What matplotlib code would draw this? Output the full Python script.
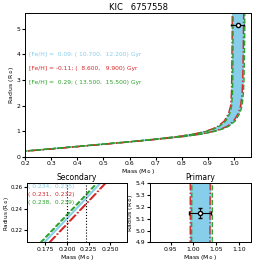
import numpy as np
import matplotlib
matplotlib.use('Agg')
import matplotlib.pyplot as plt

# isochrone radius grid (R_sun) and masses (M_sun) for each age
radius = [0.15, 0.20, 0.25, 0.30, 0.40, 0.50, 0.60, 0.70, 0.80, 0.90, 1.00,
          1.10, 1.20, 1.40, 1.70, 2.00, 2.50, 3.00, 4.00, 5.00, 5.80]

# [Fe/H] = 0.09 ; 10.7 / 12.2 Gyr
blue_young = [0.107, 0.165, 0.223, 0.280, 0.390, 0.500, 0.610, 0.712, 0.805, 0.875, 0.920,
              0.952, 0.975, 1.000, 1.018, 1.027, 1.032, 1.034, 1.036, 1.037, 1.038]
blue_old = [0.106, 0.164, 0.222, 0.279, 0.388, 0.496, 0.603, 0.700, 0.785, 0.850, 0.893,
            0.922, 0.942, 0.966, 0.982, 0.989, 0.992, 0.993, 0.994, 0.994, 0.995]
# [Fe/H] = -0.11 ; 8.6 / 9.9 Gyr
red_young = [0.113, 0.171, 0.229, 0.286, 0.396, 0.506, 0.616, 0.717, 0.808, 0.877, 0.921,
             0.952, 0.974, 0.998, 1.016, 1.025, 1.031, 1.033, 1.035, 1.036, 1.037]
red_old = [0.112, 0.170, 0.228, 0.285, 0.394, 0.502, 0.608, 0.703, 0.786, 0.848, 0.890,
           0.918, 0.938, 0.962, 0.979, 0.987, 0.990, 0.991, 0.992, 0.993, 0.993]
# [Fe/H] = 0.29 ; 13.5 / 15.5 Gyr
green_young = [0.103, 0.161, 0.219, 0.276, 0.386, 0.497, 0.608, 0.712, 0.808, 0.880, 0.926,
               0.958, 0.980, 1.004, 1.022, 1.031, 1.036, 1.038, 1.040, 1.041, 1.041]
green_old = [0.102, 0.160, 0.218, 0.275, 0.384, 0.493, 0.601, 0.700, 0.787, 0.852, 0.895,
             0.924, 0.944, 0.968, 0.984, 0.991, 0.994, 0.995, 0.996, 0.996, 0.997]

labels_main = ['[Fe/H] =  0.09; ( 10.700,  12.200) Gyr',
               '[Fe/H] = -0.11; (  8.600,   9.900) Gyr',
               '[Fe/H] =  0.29; ( 13.500,  15.500) Gyr']
labels_sec = ['( 0.234,  0.235)', '( 0.231,  0.232)', '( 0.238,  0.239)']

prim_mass, prim_mass_err = 1.014, 0.024
prim_rad, prim_rad_err = 5.15, 0.04
sec_mass_range = [0.200, 0.222]

c_blue = 'skyblue'
c_red = 'tab:red'
c_green = 'tab:green'

plt.rcParams['font.size'] = 4.4
plt.rcParams['xtick.labelsize'] = 4.4
plt.rcParams['ytick.labelsize'] = 4.4
plt.rcParams['xtick.major.size'] = 2
plt.rcParams['ytick.major.size'] = 2
plt.rcParams['xtick.major.pad'] = 1.2
plt.rcParams['ytick.major.pad'] = 1.2
plt.rcParams['axes.linewidth'] = 0.7

fig = plt.figure(figsize=(2.58, 2.63), dpi=100)
ax = fig.add_axes([0.097, 0.403, 0.876, 0.548])
ax_s = fig.add_axes([0.105, 0.078, 0.387, 0.226])
ax_p = fig.add_axes([0.581, 0.078, 0.391, 0.226])


def draw_isochrones(a, lw=1.0):
    a.fill_betweenx(radius, blue_old, blue_young, color=c_blue, lw=0)
    a.plot(blue_old, radius, color=c_blue, lw=lw)
    a.plot(blue_young, radius, color=c_blue, lw=lw)
    a.plot(red_old, radius, color=c_red, ls='-.', lw=lw)
    a.plot(red_young, radius, color=c_red, ls='-.', lw=lw)
    a.plot(green_old, radius, color=c_green, ls='--', lw=lw)
    a.plot(green_young, radius, color=c_green, ls='--', lw=lw)


for a in (ax, ax_s, ax_p):
    draw_isochrones(a)
    a.set_xlabel(r'Mass (M$_\odot$)', labelpad=0.5)
    a.set_ylabel(r'Radius (R$_\odot$)', labelpad=0.5)

# main panel
ax.errorbar(prim_mass, prim_rad, xerr=prim_mass_err, yerr=prim_rad_err, fmt='o',
            mfc='white', mec='black', ms=3, color='black', lw=0.8, capsize=1, zorder=5)
ax.set_xlim(0.2, 1.065)
ax.set_ylim(0, 5.62)
ax.set_xticks([0.2, 0.3, 0.4, 0.5, 0.6, 0.7, 0.8, 0.9, 1.0])
ax.set_title('KIC   6757558', fontsize=6, pad=2)
for txt, col, yy in zip(labels_main, [c_blue, c_red, c_green], [4.0, 3.45, 2.9]):
    ax.text(0.215, yy, txt, color=col, fontsize=4.3, va='center')

# secondary panel
for xm in sec_mass_range:
    ax_s.axvline(xm, color='black', ls=':', lw=0.8)
ax_s.set_xlim(0.154, 0.269)
ax_s.set_ylim(0.208, 0.264)
ax_s.set_xticks([0.175, 0.200, 0.225, 0.250])
ax_s.set_yticks([0.22, 0.24, 0.26])
ax_s.tick_params(axis='y', labelsize=3.9)
ax_s.set_title('Secondary', fontsize=5.5, pad=2)
ax_s.yaxis.label.set_fontsize(4.1)
ax_s.yaxis.set_label_coords(-0.165, 0.5)
for txt, col, yy in zip(labels_sec, [c_blue, c_red, c_green], [0.94, 0.81, 0.68]):
    ax_s.text(0.01, yy, txt, color=col, fontsize=4.3, va='center', transform=ax_s.transAxes)

# primary panel
ax_p.errorbar(prim_mass, prim_rad, xerr=prim_mass_err, yerr=prim_rad_err, fmt='o',
              mfc='white', mec='black', ms=3, color='black', lw=0.8, capsize=1.5, zorder=5)
ax_p.set_xlim(0.905, 1.125)
ax_p.set_ylim(4.9, 5.4)
ax_p.set_xticks([0.95, 1.00, 1.05, 1.10])
ax_p.set_yticks([4.9, 5.0, 5.1, 5.2, 5.3, 5.4])
ax_p.set_title('Primary', fontsize=5.5, pad=2)

fig.savefig('out.png', dpi=100)
